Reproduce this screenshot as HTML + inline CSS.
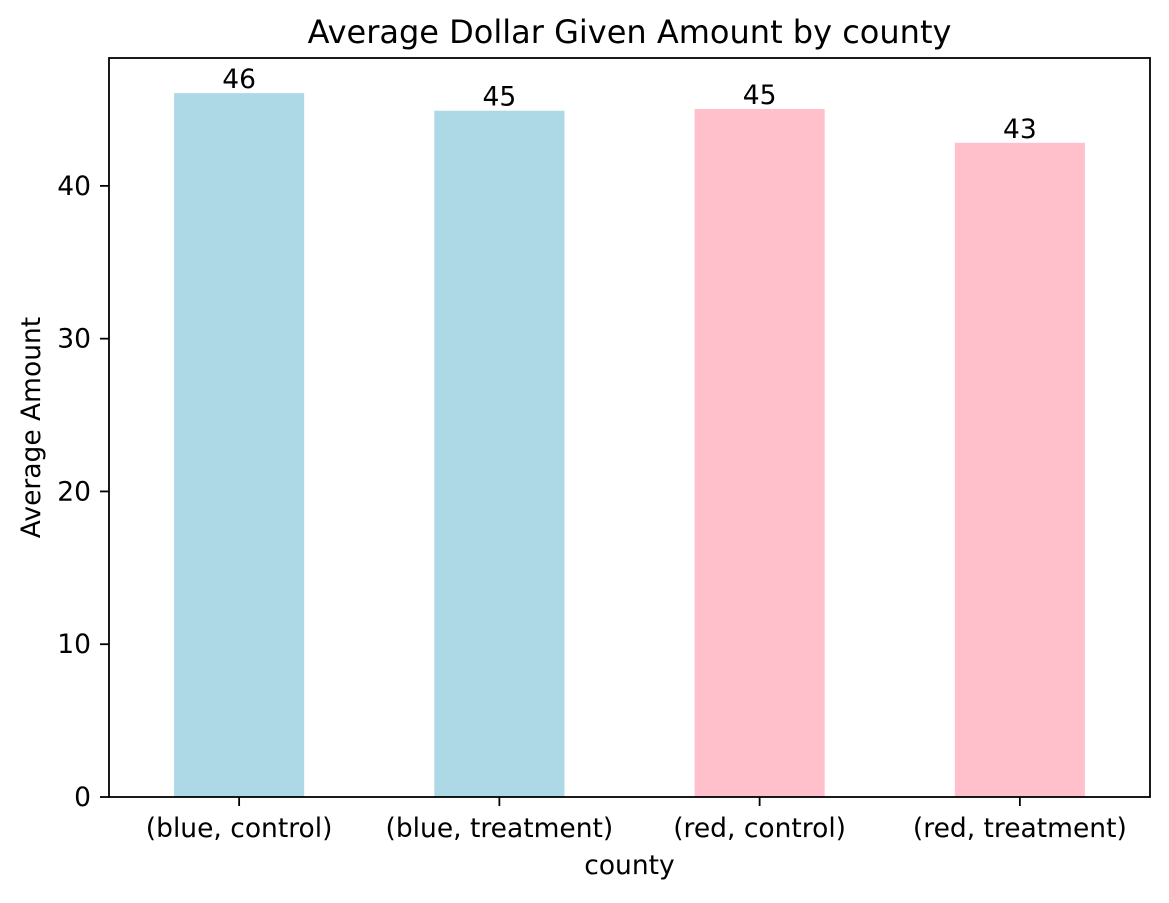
<!DOCTYPE html>
<html><head><meta charset="utf-8"><style>
body{margin:0;background:#fff;}
svg text{font-family:"DejaVu Sans","Liberation Sans",sans-serif;fill:#000;}
</style></head><body>
<svg id="chart" width="1169" height="898">
<rect width="1169" height="898" fill="#fff"/>
<g id="plot"></g>
</svg>
<script>
const categories = ["(blue, control)", "(blue, treatment)", "(red, control)", "(red, treatment)"];
const values = [46.07, 44.92, 45.03, 42.82];
const colors = ["#add8e6", "#add8e6", "#ffc0cb", "#ffc0cb"];
const yTicks = [0, 10, 20, 30, 40];

const L = 109, R = 1150, T = 58, B = 797;
const yMax = 48.37;
const FS = 26.5;
const y = v => B - v / yMax * (B - T);
const step = (R - L) / categories.length;
const x = i => L + step * (i + 0.5);
const NS = "http://www.w3.org/2000/svg";
const g = document.getElementById('plot');
function mk(tag, attrs, parent) {
  const e = document.createElementNS(NS, tag);
  for (const k in attrs) e.setAttribute(k, attrs[k]);
  (parent || g).appendChild(e);
  return e;
}
values.forEach((v, i) => {
  const r = mk('rect', {x: x(i) - step * 0.25, y: y(v), width: step * 0.5, height: B - y(v), fill: colors[i]});
  
  
  const t = mk('text', {x: x(i), y: y(v) - 5, 'text-anchor': 'middle', 'font-size': FS});
  t.textContent = Math.round(v);
  
  
  const tk = mk('line', {x1: x(i), x2: x(i), y1: B, y2: B + 9, stroke: '#000', 'stroke-width': 1.8});
  
  
  const tl = mk('text', {x: x(i), y: B + 40, 'text-anchor': 'middle', 'font-size': FS});
  tl.textContent = categories[i];
  
  
});
yTicks.forEach(v => {
  const tk = mk('line', {x1: L - 9, x2: L, y1: y(v), y2: y(v), stroke: '#000', 'stroke-width': 1.8});
  
  
  const tl = mk('text', {x: L - 18, y: y(v) + 9, 'text-anchor': 'end', 'font-size': FS});
  tl.textContent = v;
  
  
});
const frame = mk('rect', {x: L, y: T, width: R - L, height: B - T, fill: 'none', stroke: '#000', 'stroke-width': 1.8});


const title = mk('text', {x: (L + R) / 2, y: 43, 'text-anchor': 'middle', 'font-size': 32});
title.textContent = 'Average Dollar Given Amount by county';


const xt = mk('text', {x: (L + R) / 2, y: 874, 'text-anchor': 'middle', 'font-size': FS});
xt.textContent = 'county';


const yt = mk('text', {x: 0, y: 0, 'text-anchor': 'middle', 'font-size': FS, transform: 'translate(40,' + (T + B) / 2 + ') rotate(-90)'});
yt.textContent = 'Average Amount';


</script>
</body></html>
